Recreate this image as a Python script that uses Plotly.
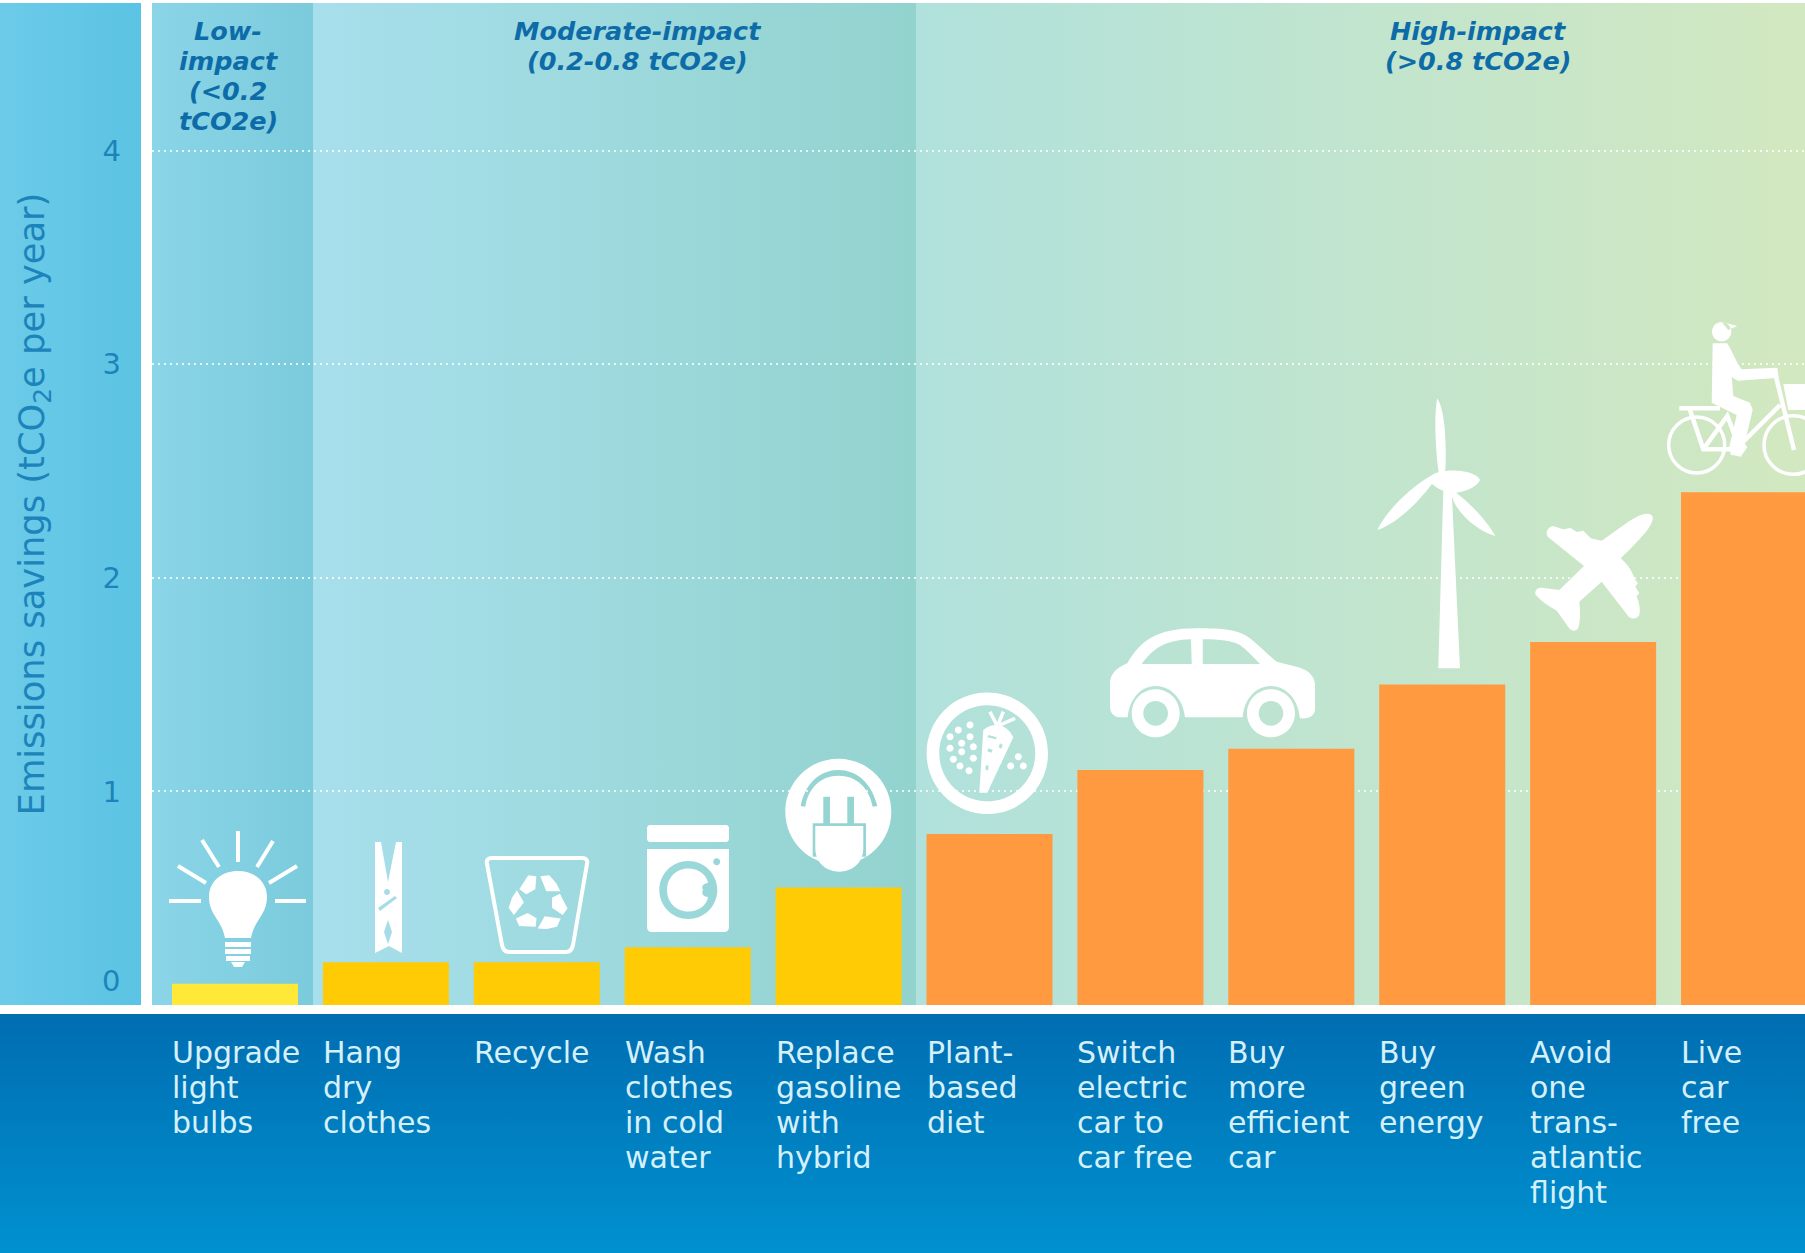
import re
import plotly.graph_objects as go

# ---------- data ----------
categories = ["Upgrade light bulbs", "Hang dry clothes", "Recycle", "Wash clothes in cold water",
              "Replace gasoline with hybrid", "Plant-based diet", "Switch electric car to car free",
              "Buy more efficient car", "Buy green energy", "Avoid one trans-atlantic flight", "Live car free"]
label_lines = [["Upgrade", "light", "bulbs"], ["Hang", "dry", "clothes"], ["Recycle"],
               ["Wash", "clothes", "in cold", "water"], ["Replace", "gasoline", "with", "hybrid"],
               ["Plant-", "based", "diet"], ["Switch", "electric", "car to", "car free"],
               ["Buy", "more", "efficient", "car"], ["Buy", "green", "energy"],
               ["Avoid", "one", "trans-", "atlantic", "flight"], ["Live", "car", "free"]]
savings = [0.10, 0.20, 0.20, 0.27, 0.55, 0.80, 1.10, 1.20, 1.50, 1.70, 2.40]
tiers = ["low", "mod", "mod", "mod", "mod", "high", "high", "high", "high", "high", "high"]
y_ticks = [1, 2, 3, 4]
y_title = "Emissions savings (tCO<sub>2</sub>e per year)"
headers = [(["Low-", "impact", "(&lt;0.2", "tCO2e)"], 228), (["Moderate-impact", "(0.2-0.8 tCO2e)"], 637),
           (["High-impact", "(&gt;0.8 tCO2e)"], 1478)]

TIER_COLOR = {"low": "#ffe838", "mod": "#ffcb05", "high": "#ff9a40"}
FONT = "DejaVu Sans"
TICK = "#1c84ba"
HEAD = "#0d6ca8"
LABEL = "#d6f0fa"
W, H = 1805, 1253
BAR_LEFT = -0.4175

fig = go.Figure()


def panel(x0, x1, y0, y1, c0, c1, kind="horizontal"):
    fig.add_trace(go.Scatter(x=[x0, x1, x1, x0, x0], y=[y0, y0, y1, y1, y0], mode="lines",
                             fill="toself", line=dict(width=0), hoverinfo="skip", showlegend=False,
                             fillgradient=dict(type=kind, colorscale=[[0, c0], [1, c1]]),
                             xaxis="x", yaxis="y"))


panel(0, 141, 3, 1005, "#6ccbe9", "#5bc3e3")
panel(152, 313, 3, 1005, "#8ad5e7", "#7bcbdc")
panel(313, 916, 3, 1005, "#a7dfec", "#93d3ce")
panel(916, 1805, 3, 1005, "#b0e1dc", "#d2e8c0")
panel(0, 1805, 1014, 1253, "#0091d0", "#006db1", "vertical")

fig.add_trace(go.Bar(x=categories, y=savings, marker=dict(color=[TIER_COLOR[t] for t in tiers], line=dict(width=0)),
                     xaxis="x2", yaxis="y2", showlegend=False, hoverinfo="x+y"))

# ---------- icons (decoration, drawn on the pixel-scale background axes) ----------
shapes = []


def P(path, ox=0, oy=0, s=1.0):
    return re.sub(r"(-?[\d.]+),(-?[\d.]+)",
                  lambda m: f"{ox + float(m[1]) * s:.1f},{oy + float(m[2]) * s:.1f}", path)


def circ(cx, cy, r):
    k = 0.5523 * r
    return (f"M{cx - r},{cy} C{cx - r},{cy - k} {cx - k},{cy - r} {cx},{cy - r} "
            f"C{cx + k},{cy - r} {cx + r},{cy - k} {cx + r},{cy} "
            f"C{cx + r},{cy + k} {cx + k},{cy + r} {cx},{cy + r} "
            f"C{cx - k},{cy + r} {cx - r},{cy + k} {cx - r},{cy} Z ")


def fill(path):
    shapes.append(dict(type="path", path=path, xref="x", yref="y", fillcolor="white",
                       line=dict(width=0), fillrule="evenodd", layer="above"))


def stroke(path, w=3.5, color="white"):
    shapes.append(dict(type="path", path=path, xref="x", yref="y", line=dict(color=color, width=w), layer="above"))


# bulb
fill("M225,938 C222,920 209,915 209,897 C209,881 222,871 238,871 C254,871 267,881 267,897 C267,915 254,920 251,938 Z "
     "M225,942 L251,942 L251,947 L225,947 Z M225,949 L251,949 L251,954 L225,954 Z "
     "M226,956 L250,956 L250,961 L226,961 Z M231,962 L245,962 L242,967 L234,967 Z")
for a in ["M169,901 L201,901", "M275,901 L306,901", "M238,831 L238,862", "M202,840 L219,867", "M273,841 L257,867",
          "M178,866 L206,883", "M297,866 L269,883"]:
    stroke(a, 4)

# clothes peg
fill("M375,842 L381,842 L388,882 L396,842 L402,842 L402,953 L389,946 L375,953 Z "
     "M388,920 L392,932 L388,944 L384,932 Z " + circ(387, 892, 3) +
     "M378,908 L395,896 L397,898 L380,911 Z")

# recycling bin
stroke("M492,858 L582,858 C586,858 588,860 587,864 L573,945 C572,950 570,952 566,952 L509,952 "
       "C505,952 503,950 502,945 L487,864 C486,860 488,858 492,858 Z", 4)
for rot in [(1, 0), (-0.5, 0.866), (-0.5, -0.866)]:
    c, sn = rot
    for blob in ([(-19, -14), (-10, -28), (-2, -27), (-3, -14), (-12, -9)],
                 [(2, -27), (11, -28), (18, -20), (22, -12), (8, -12)]):
        pts = [(538.3 + x * c - y * sn, 903.3 + x * sn + y * c) for x, y in blob]
        fill("M" + " L".join(f"{x:.1f},{y:.1f}" for x, y in pts) + " Z")

# washing machine
fill("M649,825 L727,825 L729,827 L729,840 L727,842 L649,842 L647,840 L647,827 Z")
fill("M647,849 L729,849 L729,927 C729,930 727,932 724,932 L652,932 C649,932 647,930 647,927 Z " +
     circ(688.3, 890, 29) + circ(716.7, 861.7, 3.5) +
     "M688,868.5 C700,868.5 707,876 708,883 C703,883 701,887 703,890 C701,893 703,897 708,897 "
     "C707,904 700,911.5 688,911.5 C676,911.5 667,902 667,890 C667,878 676,868.5 688,868.5 Z")

# plug
pl = (770, 680, 1 / 3)
fill(circ(838.3, 811.7, 53) +
     P("M92,378 C105,310 150,270 205,270 C262,270 305,310 322,378 L308,380 C297,322 258,287 205,287 "
       "C155,287 115,322 106,380 Z M160,350 L180,350 L180,430 L160,430 Z M232,350 L252,350 L252,430 L232,430 Z "
       "M128,430 L288,430 L288,530 L128,530 Z", *pl))
fill(P("M136,438 L280,438 L280,505 C280,550 245,575 208,575 C170,575 136,550 136,505 Z", *pl))

# carrot + grains
fill(circ(987.3, 753.3, 60.7) + circ(987.3, 753.3, 48))
cz = (770, 680, 1 / 3)
for x, y in [(565, 150), (600, 135), (600, 170), (540, 170), (575, 190), (540, 205), (610, 200), (575, 215),
             (610, 235), (550, 238), (570, 258), (597, 272), (745, 230), (722, 258), (760, 258)]:
    fill(circ(770 + x / 3, 680 + y / 3, 3.5))
fill(P("M640,150 C670,125 710,130 730,172 L652,338 L628,338 Z M655,165 L680,172 L678,178 L652,172 Z "
       "M690,190 L698,195 L694,206 L686,202 Z M655,205 L668,210 L664,218 L652,214 Z M648,255 L656,258 L654,272 L646,268 Z", *cz))
stroke(P("M680,135 L660,95 M684,135 L700,95 M690,135 L735,115", *cz), 3.5)

# car
cr = (1090, 610, 1 / 3)
fill(P("M60,215 C62,190 85,170 112,160 C150,95 195,55 320,55 C400,55 445,58 480,85 C510,110 535,135 560,155 L625,172 "
       "C655,180 675,200 675,225 L675,300 C672,320 655,327 630,325 C625,270 590,228 543,228 C495,228 462,270 458,322 "
       "L285,322 C280,270 245,228 197,228 C150,228 118,270 113,322 L85,322 C68,318 60,305 60,290 Z "
       "M155,162 L305,162 L303,88 C225,90 190,115 155,162 Z M338,162 L510,162 C490,140 470,120 450,105 C425,92 390,88 338,88 Z", *cr))
fill(P(circ(197, 310, 72) + circ(197, 310, 37) + circ(543, 310, 72) + circ(543, 310, 37), *cr))

# wind turbine
wz = (1300, 300, 1 / 3)
fill(P("M412,295 C428,320 442,390 436,513 C470,508 532,516 540,540 C530,562 495,575 468,578 C505,605 560,660 586,708 "
       "C535,695 470,640 456,590 L480,1105 L415,1105 L430,572 C420,570 408,562 396,552 C345,620 280,675 232,690 "
       "C260,630 330,565 388,530 C400,522 410,518 416,516 C406,450 402,340 412,295 Z", *wz))

# plane
fill(P("M1058,650 C1060,672 1040,700 962,775 C985,795 997,815 1003,835 L1014,850 L1006,860 L1018,880 L1010,888 "
       "C1018,910 1022,930 1018,945 C1010,958 995,958 986,950 L905,845 L838,905 C842,940 840,975 833,987 "
       "C825,995 815,993 808,985 L770,932 C745,918 715,897 706,882 C705,868 715,862 730,864 L778,870 L852,798 "
       "L745,712 C733,697 745,680 760,678 L790,688 L812,684 L830,696 L850,692 L872,715 L905,722 "
       "L985,665 C1020,642 1050,633 1058,650 Z", *wz))

# cyclist
bz = (1640, 310, 1 / 3)
fill(P(circ(245, 65, 29) + "M245,36 L292,48 L265,60 Z", *bz))
fill(P("M218,100 L262,100 C280,130 290,160 305,178 L412,173 L416,203 L295,212 C288,210 280,205 275,200 L280,258 "
       "L330,278 L338,300 L314,400 L322,412 L302,440 L272,434 L268,410 L290,315 L215,278 Z", *bz))
stroke(P(circ(170, 405, 84), *bz), 3.5)
stroke(P(circ(460, 405, 88), *bz), 3.5)
stroke(P("M118,295 L240,295 M150,300 L190,418 L270,418 M190,418 L262,318 L300,418 M300,405 L420,285 M408,200 L462,420",
         *bz), 4.5)
fill(P("M430,222 L500,222 L500,300 L445,300 Z", *bz))

# ---------- text ----------
ann = []
for i, lines in enumerate(label_lines):
    for j, t in enumerate(lines):
        ann.append(dict(text=t, xref="x2", yref="y", x=i + BAR_LEFT, xshift=-2, y=1052 + j * 35.1, xanchor="left",
                        yanchor="middle", showarrow=False, font=dict(family=FONT, size=30, color=LABEL)))
for lines, cx in headers:
    for j, t in enumerate(lines):
        ann.append(dict(text=t, xref="x", yref="y", x=cx, y=31 + j * 30, xanchor="center", yanchor="middle",
                        showarrow=False, font=dict(family=FONT, size=25.5, color=HEAD, weight="bold", style="italic")))
ann.append(dict(text="0", xref="x", yref="y", x=111, y=981, xanchor="center", yanchor="middle", showarrow=False,
                font=dict(family=FONT, size=29, color=TICK)))

fig.update_layout(
    width=W, height=H, margin=dict(l=0, r=0, t=0, b=0), autosize=False,
    paper_bgcolor="white", plot_bgcolor="rgba(0,0,0,0)",
    bargap=0.165, showlegend=False, shapes=shapes, annotations=ann,
    font=dict(family=FONT),
    xaxis=dict(domain=[0, 1], range=[0, W], visible=False, fixedrange=True),
    yaxis=dict(domain=[0, 1], range=[H, 0], visible=False, fixedrange=True),
    xaxis2=dict(domain=[152 / W, 1], range=[-0.55, 10.404], anchor="y2", type="category",
                categoryorder="array", categoryarray=categories, showticklabels=False, showgrid=False,
                zeroline=False, showline=False, ticks="", fixedrange=True),
    yaxis2=dict(domain=[(H - 1005) / H, (H - 3) / H], range=[0, 1002 / 213.6], anchor="x2",
                tickvals=y_ticks, ticktext=[str(v) for v in y_ticks],
                tickfont=dict(family=FONT, size=29, color=TICK), ticks="", ticklabelstandoff=30,
                showgrid=True, gridcolor="rgba(255,255,255,0.8)", griddash="2px,4px", gridwidth=2,
                zeroline=False, showline=False, automargin=False, fixedrange=True,
                title=dict(text=y_title, standoff=47, font=dict(family=FONT, size=35.3, color=TICK))),
)

fig.write_html("out.html", config={"displayModeBar": False},
               post_script="document.body.style.margin='0';document.body.style.overflow='hidden';")
